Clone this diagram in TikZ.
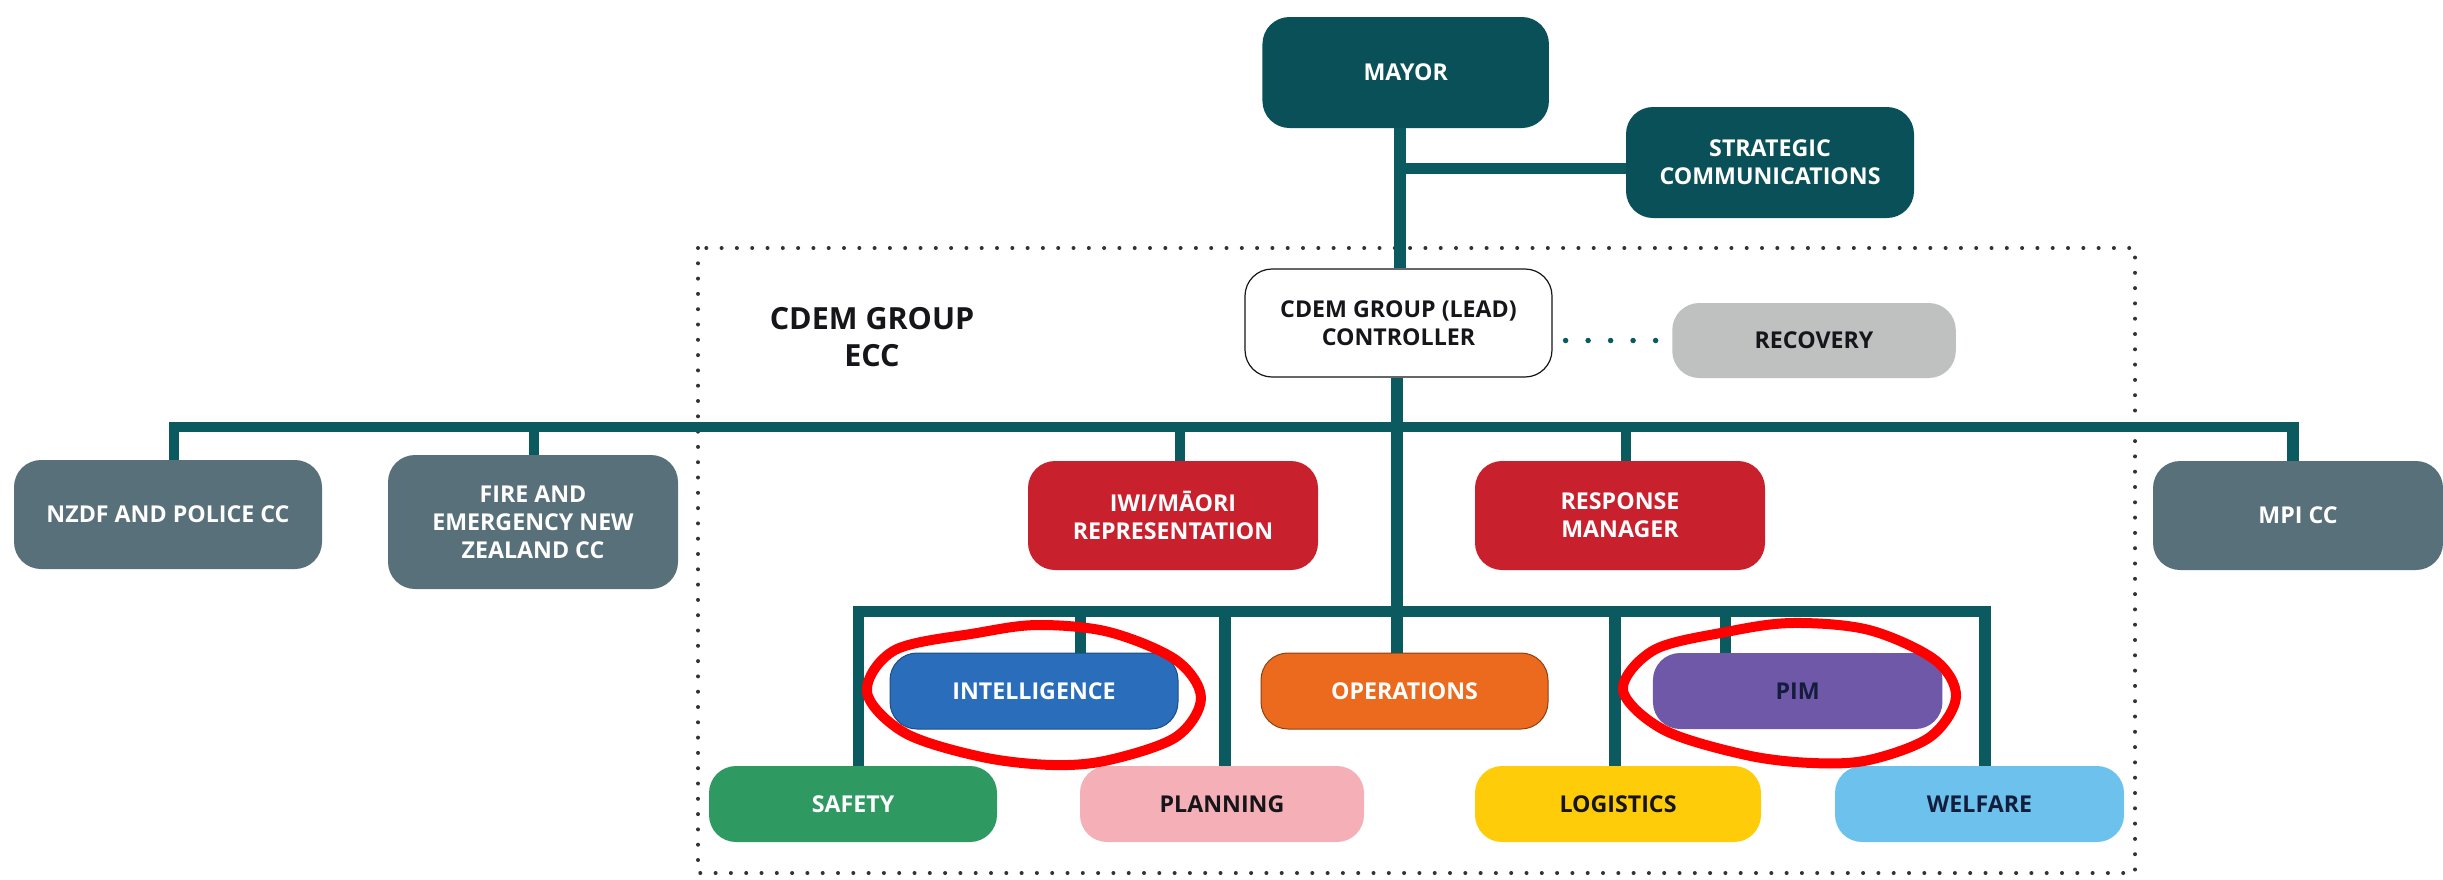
\documentclass[tikz,border=0pt]{standalone}
\usepackage{fontspec}
\setmainfont{Open Sans}
\definecolor{teal}{HTML}{0A5058}
\definecolor{linecol}{HTML}{0B5A60}
\definecolor{slate}{HTML}{58707A}
\definecolor{redb}{HTML}{C9202E}
\definecolor{blueb}{HTML}{2A6EBB}
\definecolor{orangeb}{HTML}{EC6A1E}
\definecolor{purpleb}{HTML}{7058A8}
\definecolor{greenb}{HTML}{2E9A62}
\definecolor{pinkb}{HTML}{F4B0B6}
\definecolor{yellowb}{HTML}{FFCC0A}
\definecolor{skyb}{HTML}{6CC2EC}
\definecolor{greyb}{HTML}{BFC0C0}
\definecolor{navyt}{HTML}{141E3C}
\definecolor{darkt}{HTML}{15151A}
\tikzset{
  box/.style={rectangle,rounded corners=27pt,inner sep=0pt,align=center,font=\fontsize{23.2}{28}\selectfont\bfseries,draw=none},
  wt/.style={box,text=white},
  dk/.style={box,text=darkt},
  conn/.style={line width=11.5pt,draw=linecol,line cap=butt},
  dotbox/.style={line width=4pt,draw=black!80,line cap=round,dash pattern=on 0pt off 15.3pt},
  dotlink/.style={line width=5.5pt,draw=linecol,line cap=round,dash pattern=on 0pt off 22.5pt},
  hand/.style={line width=10pt,draw=red,line join=round}
}
\begin{document}
\begin{tikzpicture}[x=1pt,y=-1pt]
\useasboundingbox (0,0) rectangle (2443,879);
% dotted frame
\draw[dotbox] (698,248) rectangle (2135,873);
% named bus points
\coordinate (bTopL) at (169,427);
\coordinate (bTopR) at (2299,427);
\coordinate (bLowL) at (853,611.5);
\coordinate (bLowR) at (1991,611.5);
\coordinate (tStrat) at (1400,168.5);
% nodes
\node[wt,fill=teal,minimum width=286.5pt,minimum height=111pt] (mayor) at (1405.7,72.5) {MAYOR};
\node[wt,fill=teal,minimum width=288pt,minimum height=111pt] (strat) at (1770,162.5) {STRATEGIC\\COMMUNICATIONS};
\node[dk,fill=white,draw=darkt,line width=1.2pt,minimum width=307pt,minimum height=108pt] (ctrl) at (1398.5,323) {CDEM GROUP (LEAD)\\CONTROLLER};
\node[dk,fill=greyb,minimum width=283.5pt,minimum height=75pt] (recovery) at (1814,340.5) {RECOVERY};
\node[wt,fill=slate,minimum width=308pt,minimum height=109pt] (nzdf) at (168,514.5) {NZDF AND POLICE CC};
\node[wt,fill=slate,minimum width=290pt,minimum height=134pt] (fire) at (533,522) {FIRE AND\\EMERGENCY NEW\\ZEALAND CC};
\node[wt,fill=redb,minimum width=290pt,minimum height=109pt] (iwi) at (1173,515.5) {IWI/MĀORI\\REPRESENTATION};
\node[wt,fill=redb,minimum width=290pt,minimum height=109pt] (resp) at (1620,515.5) {RESPONSE\\MANAGER};
\node[wt,fill=slate,minimum width=290pt,minimum height=109pt] (mpi) at (2298,515.5) {MPI CC};
\node[wt,fill=blueb,draw=blueb!70!black,line width=1pt,minimum width=288pt,minimum height=76pt] (intel) at (1034,691) {INTELLIGENCE};
\node[wt,fill=orangeb,draw=orangeb!60!black,line width=1pt,minimum width=287pt,minimum height=76pt] (ops) at (1404.5,691) {OPERATIONS};
\node[box,text=navyt,fill=purpleb,minimum width=289.5pt,minimum height=76pt] (pim) at (1797.7,691) {PIM};
\node[wt,fill=greenb,minimum width=288pt,minimum height=76pt] (safety) at (853,804) {SAFETY};
\node[dk,fill=pinkb,minimum width=284pt,minimum height=76pt] (planning) at (1222,804) {PLANNING};
\node[dk,fill=yellowb,minimum width=286pt,minimum height=76pt] (logistics) at (1618,804) {LOGISTICS};
\node[box,text=navyt,fill=skyb,minimum width=289pt,minimum height=76pt] (welfare) at (1979.5,804) {WELFARE};
\node[font=\fontsize{30.5}{37}\selectfont\bfseries,align=center,inner sep=0pt,text=darkt] (ecc) at (872,337) {CDEM GROUP\\ECC};
% connectors
\draw[conn,line width=12pt] ([xshift=-5.7pt]mayor.south) -- ([xshift=1.5pt]ctrl.north);
\draw[conn] (tStrat) -- (strat.west |- tStrat);
\draw[conn] (ctrl.south) ++(-1.5pt,0) -- (1397,653);
\draw[conn,line width=10.5pt] (bTopL) -- (bTopR);
\draw[conn,line width=10pt] (174,422) -- (nzdf.north -| 174,0);
\draw[conn,line width=10pt] (534,427) -- (fire.north -| 534,0);
\draw[conn,line width=10pt] (1180,427) -- (iwi.north -| 1180,0);
\draw[conn,line width=10pt] (1626,427) -- (resp.north -| 1626,0);
\draw[conn,line width=12pt] (2293,422) -- (mpi.north -| 2293,0);
\draw[conn] (bLowL) -- (bLowR);
\draw[conn] (858.5,606) -- (safety.north -| 858.5,0);
\draw[conn] (1080.5,611) -- (intel.north -| 1080.5,0);
\draw[conn] (1225,611) -- (planning.north -| 1225,0);
\draw[conn] (1615,611) -- (logistics.north -| 1615,0);
\draw[conn] (1725.5,611) -- (pim.north -| 1725.5,0);
\draw[conn] (1985,606) -- (welfare.north -| 1985,0);
\draw[dotlink] ([xshift=13pt]ctrl.east |- recovery.west) -- (recovery.west);
% red hand-drawn rings
\draw[hand] plot[smooth cycle,tension=0.55] coordinates {
 (867,692) (895,650) (977,633) (1038,625) (1109,632) (1176,660) (1201,698) (1176,737) (1109,760) (1053,765) (982,757) (905,733)};
\draw[hand] plot[smooth cycle,tension=0.55] coordinates {
 (1623,690) (1654,650) (1726,632) (1792,623) (1869,630) (1935,660) (1956,697) (1930,737) (1869,760) (1812,763) (1746,755) (1664,730)};
\end{tikzpicture}
\end{document}
